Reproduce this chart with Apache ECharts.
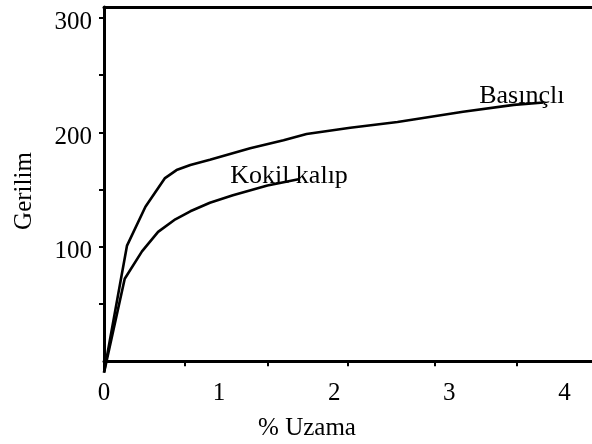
<!DOCTYPE html>
<html>
<head>
<meta charset="utf-8">
<script src="https://cdn.jsdelivr.net/npm/echarts@6/dist/echarts.min.js"></script>
<style>html,body{margin:0;padding:0;background:#fff}#c{width:592px;height:444px}</style>
</head>
<body>
<div id="c"></div>
<script>
// Data
const basincliX = [0, 0.20, 0.36, 0.53, 0.63, 0.75, 0.92, 1.27, 1.56, 1.76, 2.14, 2.55, 3.12, 3.56, 3.82];
const basincliY = [-10, 101, 135, 160, 167, 171.5, 176, 186, 193, 198.5, 204, 209, 218, 224, 226];
const kokilX = [0, 0.18, 0.33, 0.47, 0.62, 0.75, 0.92, 1.12, 1.42, 1.69];
const kokilY = [-10, 72, 96, 113, 124, 131, 138.5, 145, 153.5, 159];
const xTickLabels = [0, 1, 2, 3, 4];
const xTickMarks = [0.70, 1.42, 2.12, 2.87, 3.59];
const yTickLabels = [100, 200, 300];
const yTickMarks = [50, 100, 150, 200, 250, 300];
const seriesNames = ['Basınçlı', 'Kokil kalıp'];
const xTitle = '% Uzama';
const yTitle = 'Gerilim';

const font = 'Liberation Serif';
const pairs = (xs, ys) => xs.map((x, i) => [x, ys[i]]);

const chart = echarts.init(document.getElementById('c'), null, {renderer: 'canvas'});
const lineStyle = {color: '#000', width: 2.6};
const axisLine = {show: true, lineStyle: {color: '#000', width: 3}};
chart.setOption({
  animation: false,
  backgroundColor: '#fff',
  grid: {left: 104, top: 7, right: 0, bottom: 74, containLabel: false},
  xAxis: [{
    type: 'value', min: 0, max: 4.24, position: 'bottom',
    axisLine: axisLine,
    axisTick: {show: true, customValues: xTickMarks, length: 5, lineStyle: {color: '#000', width: 2}},
    axisLabel: {customValues: xTickLabels, margin: 11, color: '#000', fontFamily: font, fontSize: 25},
    splitLine: {show: false}
  }, {
    type: 'value', min: 0, max: 4.24, position: 'top',
    axisLine: axisLine, axisTick: {show: false}, axisLabel: {show: false}, splitLine: {show: false}
  }],
  yAxis: {
    type: 'value', min: -7.7, max: 309.5,
    axisLine: axisLine,
    axisTick: {show: true, customValues: yTickMarks, length: 5, lineStyle: {color: '#000', width: 2}},
    axisLabel: {
      customValues: yTickLabels, margin: 12, color: '#000', fontFamily: font, fontSize: 25,
      formatter: '{v|{value}}',
      rich: {v: {fontFamily: font, fontSize: 25, color: '#000', lineHeight: 25, padding: [10, 0, 0, 0]}}
    },
    splitLine: {show: false}
  },
  series: [{
    name: seriesNames[0], type: 'line', symbol: 'none', clip: false,
    data: pairs(basincliX, basincliY), lineStyle: lineStyle,
    markPoint: {
      symbol: 'circle', symbolSize: 0,
      label: {show: true, position: 'right', distance: 0, formatter: seriesNames[0], color: '#000', fontFamily: font, fontSize: 26},
      data: [{coord: [3.26, 232]}]
    }
  }, {
    name: seriesNames[1], type: 'line', symbol: 'none', clip: false,
    data: pairs(kokilX, kokilY), lineStyle: lineStyle,
    markPoint: {
      symbol: 'circle', symbolSize: 0,
      label: {show: true, position: 'right', distance: 0, formatter: seriesNames[1], color: '#000', fontFamily: font, fontSize: 26},
      data: [{coord: [1.096, 162]}]
    }
  }],
  graphic: [{
    type: 'text', x: 307, y: 428,
    style: {text: xTitle, fill: '#000', font: '25px "Liberation Serif"', textAlign: 'center', textVerticalAlign: 'middle'}
  }, {
    type: 'text', x: 24, y: 191, rotation: Math.PI / 2,
    style: {text: yTitle, fill: '#000', font: '25px "Liberation Serif"', textAlign: 'center', textVerticalAlign: 'middle'}
  }]
});
</script>
</body>
</html>
